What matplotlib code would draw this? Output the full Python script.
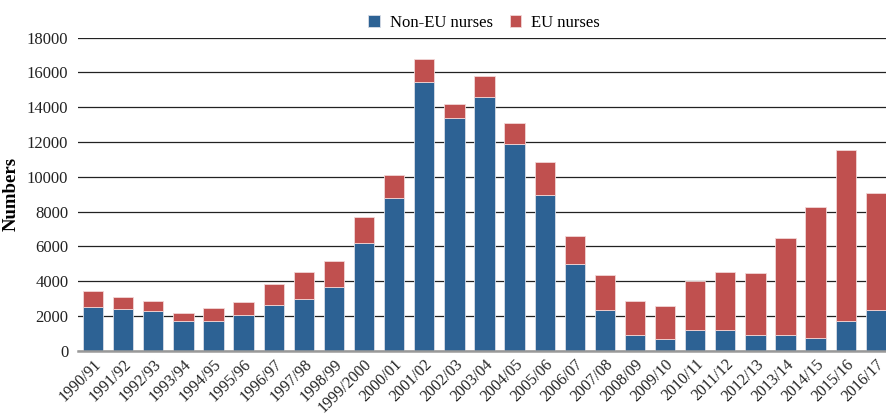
import matplotlib
matplotlib.use('Agg')
import matplotlib.pyplot as plt
import numpy as np

years = ['1990/91', '1991/92', '1992/93', '1993/94', '1994/95', '1995/96',
         '1996/97', '1997/98', '1998/99', '1999/2000', '2000/01', '2001/02',
         '2002/03', '2003/04', '2004/05', '2005/06', '2006/07', '2007/08',
         '2008/09', '2009/10', '2010/11', '2011/12', '2012/13', '2013/14',
         '2014/15', '2015/16', '2016/17']
non_eu = [2530, 2380, 2260, 1690, 1700, 2070, 2620, 2950, 3680, 6170, 8770,
          15480, 13390, 14600, 11900, 8980, 4960, 2360, 880, 650, 1170, 1170,
          880, 880, 710, 1700, 2360]
eu = [900, 700, 590, 460, 770, 710, 1230, 1570, 1490, 1510, 1310, 1320,
      790, 1190, 1180, 1900, 1610, 2010, 1990, 1920, 2810, 3350, 3580,
      5600, 7530, 9830, 6720]

plt.rcParams['font.family'] = ['Liberation Serif', 'DejaVu Serif']

fig = plt.figure(figsize=(8.87, 4.15), dpi=100)
ax = fig.add_axes([78 / 887, 1 - 350.7 / 415, 1 - 78 / 887, 313 / 415])

x = np.arange(len(years))
blue = '#2D6294'
red = '#C0504F'
ax.bar(x, non_eu, width=0.675, color=blue, edgecolor='#D8DDE6',
       linewidth=0.6, label='Non-EU nurses', zorder=3)
ax.bar(x, eu, width=0.675, bottom=non_eu, color=red, edgecolor='#F2D6D6',
       linewidth=0.6, label='EU nurses', zorder=3)

ax.set_ylim(0, 18000)
ax.set_xlim(-0.5, 26.37)
ax.set_yticks(range(0, 18001, 2000))
ax.yaxis.grid(True, color='#222222', linewidth=0.9, zorder=0)
ax.set_axisbelow(True)
for s in ['top', 'right', 'left']:
    ax.spines[s].set_visible(False)
ax.spines['bottom'].set_color('#999999')
ax.spines['bottom'].set_linewidth(1.8)
ax.spines['bottom'].set_zorder(4)
ax.tick_params(axis='both', length=0, labelsize=12, colors='#222222')
ax.tick_params(axis='y', pad=7)
ax.set_xticks(x)
ax.set_xticklabels(years, rotation=45, ha='right', rotation_mode='anchor',
                   fontsize=11.5)
ax.tick_params(axis='x', pad=4)
ax.set_ylabel('Numbers', fontsize=13.5, fontweight='bold', labelpad=5)

ax.legend(loc='upper center', bbox_to_anchor=(0.502, 1.12), ncol=2,
          frameon=False, fontsize=12, handlelength=0.7, handleheight=0.7,
          columnspacing=1.0, handletextpad=0.6)

fig.savefig('out.png', dpi=100)
